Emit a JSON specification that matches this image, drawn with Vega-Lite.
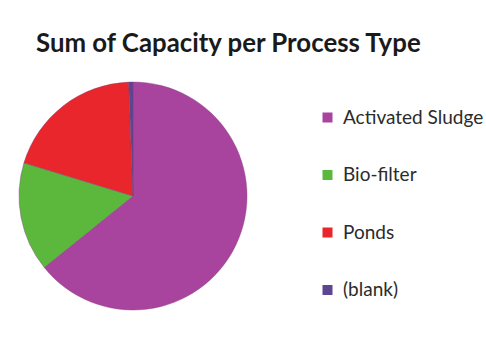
{
  "$schema": "https://vega.github.io/schema/vega-lite/v6.json",
  "autosize": {"type": "none"},
  "width": 228,
  "height": 228,
  "padding": {"left": 19, "top": 82, "right": 239, "bottom": 28},
  "background": "white",
  "title": {
    "text": "Sum of Capacity per Process Type",
    "anchor": "start",
    "frame": "group",
    "dx": 17,
    "offset": 23,
    "font": "Lato",
    "fontSize": 25.8,
    "fontWeight": "bold",
    "color": "#1a1a1a"
  },
  "data": {
    "values": [
      {"ProcessType": "Activated Sludge", "Capacity": 642, "rank": 1},
      {"ProcessType": "Bio-filter", "Capacity": 155, "rank": 2},
      {"ProcessType": "Ponds", "Capacity": 197, "rank": 3},
      {"ProcessType": "(blank)", "Capacity": 6, "rank": 4}
    ]
  },
  "mark": {"type": "arc", "outerRadius": 114, "stroke": "#7d3d78", "strokeWidth": 0.4},
  "encoding": {
    "theta": {"field": "Capacity", "type": "quantitative", "stack": true},
    "order": {"field": "rank", "type": "quantitative"},
    "color": {
      "field": "ProcessType",
      "type": "nominal",
      "scale": {
        "domain": ["Activated Sludge", "Bio-filter", "Ponds", "(blank)"],
        "range": ["#a8449e", "#5cb83d", "#e8262b", "#5e4590"]
      },
      "legend": {
        "title": null,
        "orient": "none",
        "legendX": 299,
        "legendY": 26,
        "symbolType": "square",
        "symbolSize": 100,
        "symbolStrokeWidth": 0,
        "labelFont": "Lato",
        "labelFontSize": 19,
        "labelColor": "#2b2b2b",
        "labelOffset": 6,
        "rowPadding": 37.5
      }
    }
  },
  "config": {"view": {"stroke": null}}
}
